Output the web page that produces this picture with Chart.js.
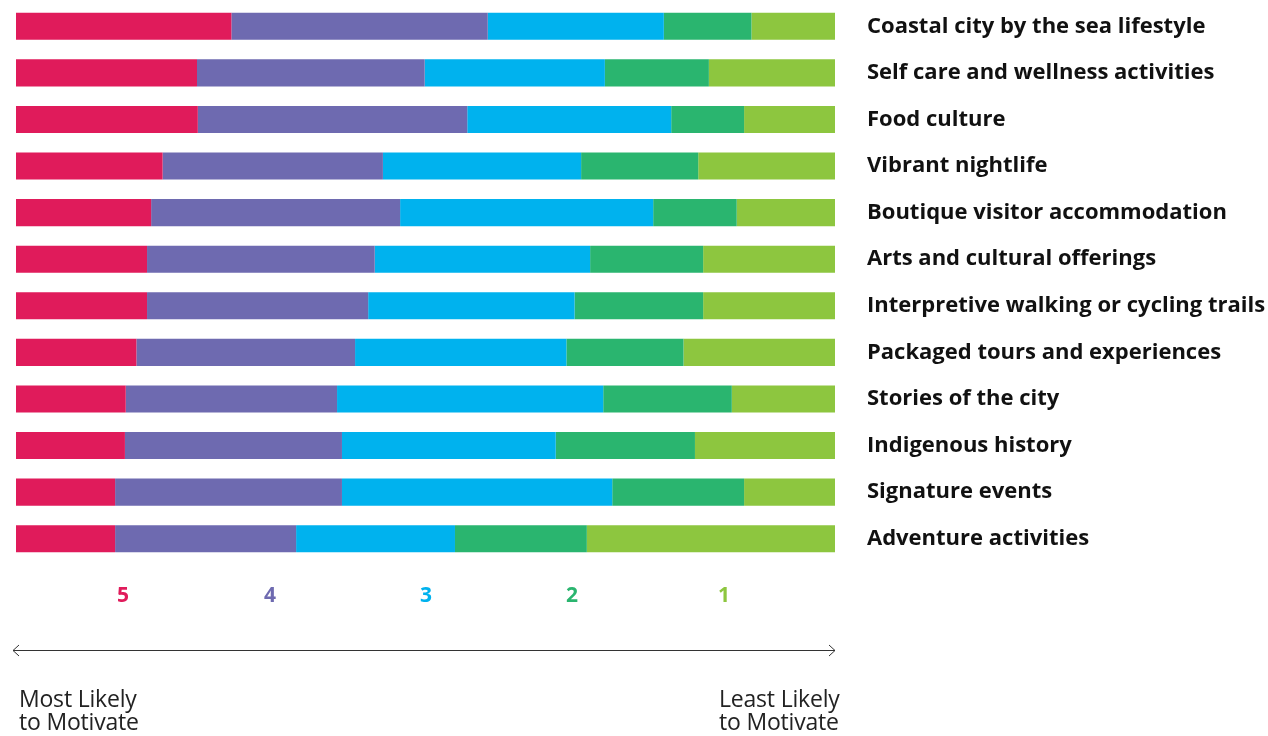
<!DOCTYPE html>
<html><head><meta charset="utf-8">
<script src="https://cdn.jsdelivr.net/npm/chart.js@4"></script>
<style>
html,body{margin:0;padding:0;background:#fff;}
#wrap{position:relative;width:1268px;height:736px;overflow:hidden;}
#c{position:absolute;left:0;top:0;}
.num{position:absolute;top:583px;font:bold 21px "Open Sans", sans-serif;line-height:22px;transform:translateX(-50%);}
.note{position:absolute;top:687px;font:23px "Open Sans", sans-serif;line-height:23px;color:#222;white-space:nowrap;letter-spacing:-0.2px;}
</style></head>
<body>
<div id="wrap">
<canvas id="c" width="1268" height="736" style="width:1268px;height:736px"></canvas>
<div id="legend"></div>
<div class="note" style="left:19px">Most Likely<br>to Motivate</div>
<div class="note" style="left:719px">Least Likely<br>to Motivate</div>
</div>
<script>
const categories = [
  "Coastal city by the sea lifestyle",
  "Self care and wellness activities",
  "Food culture",
  "Vibrant nightlife",
  "Boutique visitor accommodation",
  "Arts and cultural offerings",
  "Interpretive walking or cycling trails",
  "Packaged tours and experiences",
  "Stories of the city",
  "Indigenous history",
  "Signature events",
  "Adventure activities"
];
const ratingLabels = ["5", "4", "3", "2", "1"];
const rating5 = [26.3, 22.1, 22.2, 17.9, 16.5, 16.0, 16.0, 14.7, 13.4, 13.3, 12.1, 12.1];
const rating4 = [31.3, 27.8, 32.9, 26.9, 30.4, 27.8, 27.0, 26.7, 25.8, 26.5, 27.7, 22.1];
const rating3 = [21.5, 22.0, 24.9, 24.2, 30.9, 26.3, 25.2, 25.8, 32.5, 26.1, 33.0, 19.4];
const rating2 = [10.7, 12.7, 8.9, 14.3, 10.2, 13.8, 15.7, 14.3, 15.7, 17.0, 16.1, 16.1];
const rating1 = [10.2, 15.4, 11.1, 16.7, 12.0, 16.1, 16.1, 18.5, 12.6, 17.1, 11.1, 30.3];

const colors = ["#E01B5B", "#6E6AB0", "#00B2EE", "#2AB56F", "#8DC63F"];
const series = [rating5, rating4, rating3, rating2, rating1];
const legendX = [123, 270, 426, 572, 724];

const legendEl = document.getElementById('legend');
ratingLabels.forEach((l, i) => {
  const d = document.createElement('div');
  d.className = 'num';
  d.style.left = legendX[i] + 'px';
  d.style.color = colors[i];
  d.textContent = l;
  legendEl.appendChild(d);
});

const arrowPlugin = {
  id: 'arrow',
  afterDraw(chart) {
    const ctx = chart.ctx;
    const y = 650.5, x0 = 13, x1 = chart.chartArea.right;
    ctx.save();
    ctx.strokeStyle = '#333';
    ctx.lineWidth = 1;
    ctx.beginPath();
    ctx.moveTo(x0, y); ctx.lineTo(x1, y);
    ctx.moveTo(x0 + 6, y - 5.5); ctx.lineTo(x0, y); ctx.lineTo(x0 + 6, y + 5.5);
    ctx.moveTo(x1 - 6, y - 5.5); ctx.lineTo(x1, y); ctx.lineTo(x1 - 6, y + 5.5);
    ctx.stroke();
    ctx.restore();
  }
};

new Chart(document.getElementById('c'), {
  type: 'bar',
  data: {
    labels: categories,
    datasets: series.map((s, i) => ({
      label: ratingLabels[i],
      data: s,
      backgroundColor: colors[i],
      borderWidth: 0,
      barPercentage: 0.58,
      categoryPercentage: 1.0
    }))
  },
  options: {
    indexAxis: 'y',
    responsive: false,
    animation: false,
    devicePixelRatio: 1,
    layout: { padding: { left: 16, top: 3, bottom: 174, right: 0 } },
    plugins: { legend: { display: false }, tooltip: { enabled: false } },
    scales: {
      x: { stacked: true, min: 0, max: 100, display: false },
      y: {
        stacked: true,
        position: 'right',
        grid: { display: false, drawTicks: false },
        border: { display: false },
        ticks: { color: '#111', padding: 32, font: { family: 'Open Sans', weight: 'bold', size: 22 } },
        afterFit(scale) { scale.width = 433; scale.paddingTop = 0; scale.paddingBottom = 0; }
      }
    }
  },
  plugins: [arrowPlugin]
});
</script>
</body></html>
